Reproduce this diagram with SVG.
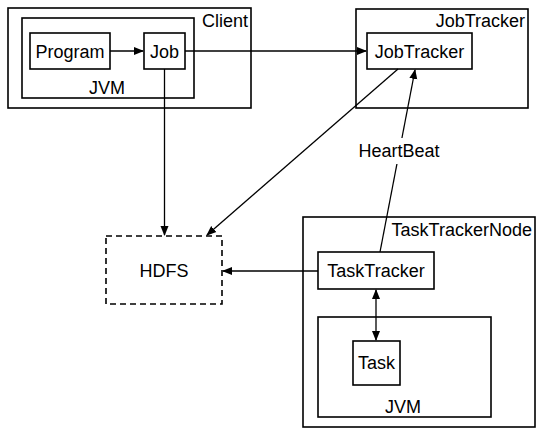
<svg xmlns="http://www.w3.org/2000/svg" width="541" height="436" viewBox="0 0 541 436">
<style>
.box{fill:#fff;stroke:#000;stroke-width:1.6}
.dash{fill:#fff;stroke:#000;stroke-width:1.6;stroke-dasharray:6,4}
text{font-family:"Liberation Sans",Arial,sans-serif;font-size:18px;fill:#000}
.c{text-anchor:middle}
.r{text-anchor:end}
.ln{fill:none;stroke:#000;stroke-width:1.3}
</style>
<defs>
<marker id="ah" viewBox="0 0 10 10" refX="9" refY="5" markerWidth="10" markerHeight="10" markerUnits="userSpaceOnUse" orient="auto-start-reverse">
<path d="M0,1 L10,5 L0,9 Z" fill="#000"/>
</marker>
</defs>
<rect width="541" height="436" fill="#fff"/>
<g id="client">
<rect class="box" x="8" y="8" width="243" height="100"/>
<text class="r" x="248" y="27">Client</text>
</g>
<g id="client-jvm">
<rect class="box" x="22" y="18" width="172" height="80"/>
<text class="c" x="107" y="94">JVM</text>
</g>
<g id="program">
<rect class="box" x="30" y="33" width="80" height="36"/>
<text class="c" x="70" y="57.5">Program</text>
</g>
<g id="job">
<rect class="box" x="144" y="33" width="41" height="36"/>
<text class="c" x="164.5" y="57.5">Job</text>
</g>
<g id="jobtracker-node">
<rect class="box" x="356" y="9" width="172" height="99"/>
<text class="r" x="525" y="27">JobTracker</text>
</g>
<g id="jobtracker">
<rect class="box" x="367" y="33" width="105" height="36"/>
<text class="c" x="419.5" y="57.5">JobTracker</text>
</g>
<g id="hdfs">
<rect class="dash" x="106" y="236" width="116" height="68"/>
<text class="c" x="164" y="277">HDFS</text>
</g>
<g id="tasktracker-node">
<rect class="box" x="303" y="217" width="232" height="210"/>
<text class="r" x="532" y="236">TaskTrackerNode</text>
</g>
<g id="tasktracker">
<rect class="box" x="318" y="252" width="116" height="37"/>
<text class="c" x="376" y="277">TaskTracker</text>
</g>
<g id="task-jvm">
<rect class="box" x="318" y="317" width="173" height="100"/>
<text class="c" x="403" y="413">JVM</text>
</g>
<g id="task">
<rect class="box" x="353" y="341" width="47" height="44"/>
<text class="c" x="376.5" y="369">Task</text>
</g>
<g id="connectors">
<line class="ln" x1="110" y1="51" x2="143" y2="51" marker-end="url(#ah)"/>
<line class="ln" x1="185" y1="51" x2="366" y2="51" marker-end="url(#ah)"/>
<line class="ln" x1="164.5" y1="69" x2="164.5" y2="235" marker-end="url(#ah)"/>
<line class="ln" x1="398" y1="69" x2="207" y2="235" marker-end="url(#ah)"/>
<line class="ln" x1="318" y1="271" x2="223" y2="271" marker-end="url(#ah)"/>
<line class="ln" x1="376" y1="290" x2="376" y2="340" marker-start="url(#ah)" marker-end="url(#ah)"/>
<line class="ln" x1="380" y1="252" x2="415" y2="70" marker-end="url(#ah)"/>
<rect x="355" y="138" width="90" height="26" fill="#fff"/>
<text class="c" x="399" y="157">HeartBeat</text>
</g>
</svg>
